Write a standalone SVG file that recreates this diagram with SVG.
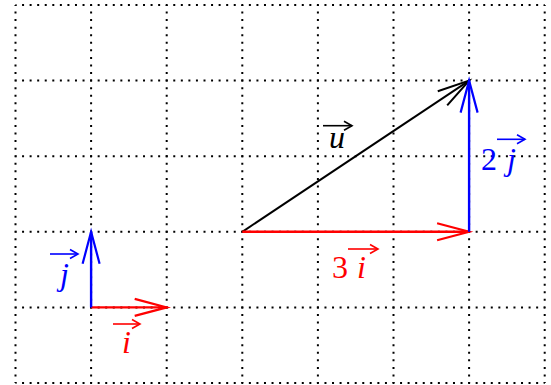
<svg xmlns="http://www.w3.org/2000/svg" width="551" height="385" viewBox="0 0 551 385">
<style>
.grid line{stroke:#000;stroke-width:2;stroke-dasharray:2 5.56;stroke-dashoffset:1}
.lbl{font-family:"Liberation Serif","Times New Roman",serif;font-size:32px}
.it{font-style:italic}
.red{fill:#ff0000}
.blue{fill:#0000ff}
.blk{fill:#000}
</style>
<defs>
<marker id="hR" markerUnits="userSpaceOnUse" orient="auto" overflow="visible" markerWidth="1" markerHeight="1"><path d="M-32,-8.5 L0,0 L-32,8.5" fill="none" stroke="#ff0000" stroke-width="2.2"/></marker>
<marker id="hB" markerUnits="userSpaceOnUse" orient="auto" overflow="visible" markerWidth="1" markerHeight="1"><path d="M-32,-8.5 L0,0 L-32,8.5" fill="none" stroke="#0000ff" stroke-width="2.2"/></marker>
<marker id="hK" markerUnits="userSpaceOnUse" orient="auto" overflow="visible" markerWidth="1" markerHeight="1"><path d="M-32,-8.5 L0,0 L-32,8.5" fill="none" stroke="#000" stroke-width="2"/></marker>
<marker id="sR" markerUnits="userSpaceOnUse" orient="auto" overflow="visible" markerWidth="1" markerHeight="1"><path d="M-8,-4.5 L0,0 L-8,4.5" fill="none" stroke="#ff0000" stroke-width="1.6"/></marker>
<marker id="sB" markerUnits="userSpaceOnUse" orient="auto" overflow="visible" markerWidth="1" markerHeight="1"><path d="M-8,-4.5 L0,0 L-8,4.5" fill="none" stroke="#0000ff" stroke-width="1.6"/></marker>
<marker id="sK" markerUnits="userSpaceOnUse" orient="auto" overflow="visible" markerWidth="1" markerHeight="1"><path d="M-8,-4.5 L0,0 L-8,4.5" fill="none" stroke="#000" stroke-width="1.6"/></marker>
</defs>
<g class="grid">
<line x1="15.5" y1="5" x2="15.5" y2="383"/>
<line x1="91.1" y1="5" x2="91.1" y2="383"/>
<line x1="166.7" y1="5" x2="166.7" y2="383"/>
<line x1="242.3" y1="5" x2="242.3" y2="383"/>
<line x1="317.9" y1="5" x2="317.9" y2="383"/>
<line x1="393.5" y1="5" x2="393.5" y2="383"/>
<line x1="469.1" y1="5" x2="469.1" y2="383"/>
<line x1="544.7" y1="5" x2="544.7" y2="383"/>
<line x1="15.5" y1="5" x2="544.7" y2="5"/>
<line x1="15.5" y1="80.6" x2="544.7" y2="80.6"/>
<line x1="15.5" y1="156.2" x2="544.7" y2="156.2"/>
<line x1="15.5" y1="231.8" x2="544.7" y2="231.8"/>
<line x1="15.5" y1="307.4" x2="544.7" y2="307.4"/>
<line x1="15.5" y1="383" x2="544.7" y2="383"/>
</g>
<g id="connectors" fill="none">
<line x1="242.3" y1="231.8" x2="469.1" y2="80.6" stroke="#000" stroke-width="2" marker-end="url(#hK)"/>
<line x1="242.3" y1="231.8" x2="469.1" y2="231.8" stroke="#ff0000" stroke-width="2.4" marker-end="url(#hR)"/>
<line x1="469.1" y1="231.8" x2="469.1" y2="80.6" stroke="#0000ff" stroke-width="2.4" marker-end="url(#hB)"/>
<line x1="91.1" y1="307.4" x2="166.7" y2="307.4" stroke="#ff0000" stroke-width="2.4" marker-end="url(#hR)"/>
<line x1="91.1" y1="307.4" x2="91.1" y2="231.8" stroke="#0000ff" stroke-width="2.4" marker-end="url(#hB)"/>
</g>
<g id="label-j">
<line x1="50" y1="254" x2="78" y2="254" stroke="#0000ff" stroke-width="1.6" marker-end="url(#sB)"/>
<text class="lbl it blue" x="60" y="285">j</text>
</g>
<g id="label-i">
<line x1="113" y1="324" x2="140" y2="324" stroke="#ff0000" stroke-width="1.6" marker-end="url(#sR)"/>
<text class="lbl it red" x="122" y="353">i</text>
</g>
<g id="label-u">
<line x1="323" y1="125.7" x2="352" y2="125.7" stroke="#000" stroke-width="1.6" marker-end="url(#sK)"/>
<text class="lbl it blk" x="329" y="148">u</text>
</g>
<g id="label-3i">
<text class="lbl red" x="332" y="278">3</text>
<line x1="348" y1="249" x2="378" y2="249" stroke="#ff0000" stroke-width="1.6" marker-end="url(#sR)"/>
<text class="lbl it red" x="357" y="278">i</text>
</g>
<g id="label-2j">
<text class="lbl blue" x="481" y="170">2</text>
<line x1="497" y1="139.3" x2="525" y2="139.3" stroke="#0000ff" stroke-width="1.6" marker-end="url(#sB)"/>
<text class="lbl it blue" x="507" y="170">j</text>
</g>
</svg>
